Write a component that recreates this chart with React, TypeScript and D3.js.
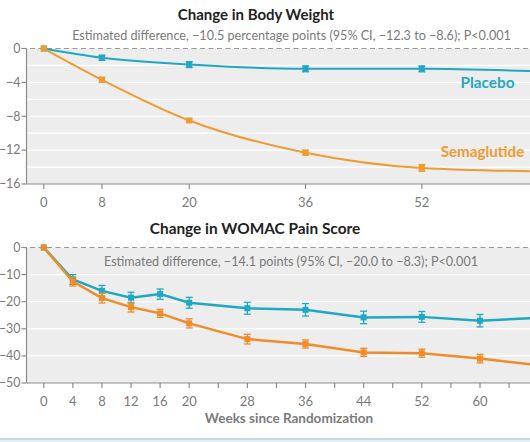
import React from "react";
import * as d3 from "d3";

const W = 530;
const H = 442;

// Top panel: Change in Body Weight (%)
const weeksTop = [0, 8, 20, 36, 52, 68];
const placeboTop = [0, -1.1, -1.9, -2.4, -2.4, -2.7];
const placeboTopErr = [0, 0.3, 0.35, 0.35, 0.35, 0.35];
const semaTop = [0, -3.7, -8.5, -12.3, -14.1, -14.5];
const semaTopErr = [0, 0.3, 0.2, 0.3, 0.4, 0.4];
const yTicksTop = [0, -4, -8, -12, -16];
const yGridTop = [-2, -4, -6, -8, -10, -12, -14];
const xTicksTop = [0, 8, 20, 36, 52, 68];

// Bottom panel: Change in WOMAC Pain Score
const weeksBot = [0, 4, 8, 12, 16, 20, 28, 36, 44, 52, 60, 68];
const placeboBot = [0, -11.8, -16.0, -18.5, -17.2, -20.4, -22.4, -23.0, -25.8, -25.6, -27.0, -26.0];
const placeboBotErr = [0, 1.8, 2.0, 2.0, 1.9, 2.0, 2.2, 2.3, 2.3, 2.0, 2.3, 2.2];
const semaBot = [0, -12.6, -18.7, -22.0, -24.3, -28.0, -33.8, -35.6, -38.7, -39.0, -41.0, -43.4];
const semaBotErr = [0, 1.6, 1.8, 1.8, 1.5, 1.7, 1.8, 1.5, 1.5, 1.5, 1.6, 1.6];
const yTicksBot = [0, -10, -20, -30, -40, -50];
const yGridBot = [-10, -20, -30, -40];
const xTicksBot = [0, 4, 8, 12, 16, 20, 24, 28, 32, 36, 40, 44, 48, 52, 56, 60, 64, 68];
const xLabelsBot = [0, 4, 8, 12, 16, 20, 28, 36, 44, 52, 60];

const TEAL = "#1fa8c4";
const ORANGE = "#f19a30";
const GRAY = "#7a7a7a";
const AXIS = "#8c8c8c";
const BG = "#ededed";
const FONT = "Lato, 'Open Sans', sans-serif";

const fmt = (v: number) => (v < 0 ? "\u2212" + Math.abs(v) : String(v));

type Panel = {
  top: number;
  bottom: number;
  yDomain: [number, number];
  yTicks: number[];
  yGrid: number[];
  xTicks: number[];
  xLabels: number[];
  weeks: number[];
  series: { vals: number[]; err: number[]; color: string }[];
  lineWidth: number;
  smooth: boolean;
};

function PanelView({ p }: { p: Panel }) {
  const x = d3.scaleLinear().domain([0, 68]).range([43.8, 43.8 + 68 * 7.27]);
  const y = d3.scaleLinear().domain(p.yDomain).range([p.top, p.bottom]);
  const left = 26.5;
  const line = d3
    .line<number>()
    .x((_, i) => x(p.weeks[i]))
    .y((d) => y(d))
    .curve(p.smooth ? d3.curveMonotoneX : d3.curveLinear);
  return (
    <g>
      <rect x={left} y={p.top} width={W - left} height={p.bottom - p.top} fill={BG} />
      {p.yGrid.map((g) => (
        <line key={g} x1={left} x2={W} y1={y(g)} y2={y(g)} stroke="#fff" strokeWidth={1.2} />
      ))}
      <line x1={21.5} x2={W} y1={y(0)} y2={y(0)} stroke="#9a9a9a" strokeWidth={1.2} strokeDasharray="5,3.5" />
      <line x1={left} x2={left} y1={p.top} y2={p.bottom} stroke={AXIS} strokeWidth={1.2} />
      <line x1={left} x2={W} y1={p.bottom} y2={p.bottom} stroke={AXIS} strokeWidth={1.2} />
      {p.yTicks.map((t) => (
        <g key={t}>
          <line x1={21.5} x2={left} y1={y(t)} y2={y(t)} stroke={AXIS} strokeWidth={1.2} />
          <text x={20.5} y={y(t)} dy="0.35em" textAnchor="end" fontSize={12.4} fill={GRAY}>
            {fmt(t)}
          </text>
        </g>
      ))}
      {p.xTicks.map((t) => (
        <line key={t} x1={x(t)} x2={x(t)} y1={p.bottom} y2={p.bottom + 5} stroke={AXIS} strokeWidth={1.2} />
      ))}
      {p.xLabels.map((t) => (
        <text key={t} x={x(t)} y={p.bottom + 18} dy="0.35em" textAnchor="middle" fontSize={13} fill={GRAY}>
          {t}
        </text>
      ))}
      {p.series.map((s, si) => (
        <g key={si}>
          <path d={line(s.vals) || ""} fill="none" stroke={s.color} strokeWidth={p.lineWidth} />
          {s.vals.map((v, i) =>
            s.err[i] > 0 ? (
              <g key={i} stroke={s.color} strokeWidth={1.3}>
                <line x1={x(p.weeks[i])} x2={x(p.weeks[i])} y1={y(v - s.err[i])} y2={y(v + s.err[i])} />
                <line x1={x(p.weeks[i]) - 3.5} x2={x(p.weeks[i]) + 3.5} y1={y(v - s.err[i])} y2={y(v - s.err[i])} />
                <line x1={x(p.weeks[i]) - 3.5} x2={x(p.weeks[i]) + 3.5} y1={y(v + s.err[i])} y2={y(v + s.err[i])} />
              </g>
            ) : null
          )}
          {s.vals.map((v, i) => (
            <rect key={"m" + i} x={x(p.weeks[i]) - 3} y={y(v) - 3} width={6} height={6} fill={s.color} />
          ))}
        </g>
      ))}
    </g>
  );
}

export default function App() {
  const topPanel: Panel = {
    top: 48.5,
    bottom: 184,
    yDomain: [0, -16],
    yTicks: yTicksTop,
    yGrid: yGridTop,
    xTicks: xTicksTop,
    xLabels: xTicksTop.slice(0, 5),
    weeks: weeksTop,
    series: [
      { vals: placeboTop, err: placeboTopErr, color: TEAL },
      { vals: semaTop, err: semaTopErr, color: ORANGE },
    ],
    lineWidth: 2,
    smooth: true,
  };
  const botPanel: Panel = {
    top: 247.5,
    bottom: 383,
    yDomain: [0, -50],
    yTicks: yTicksBot,
    yGrid: yGridBot,
    xTicks: xTicksBot,
    xLabels: xLabelsBot,
    weeks: weeksBot,
    series: [
      { vals: placeboBot, err: placeboBotErr, color: TEAL },
      { vals: semaBot, err: semaBotErr, color: "#ef8c28" },
    ],
    lineWidth: 2.5,
    smooth: false,
  };
  return (
    <svg
      width={W}
      height={H}
      style={{ position: "absolute", left: 0, top: 0, background: "#fff" }}
      fontFamily={FONT}
    >
      <text x={256} y={15} dy="0.35em" textAnchor="middle" fontSize={15} fontWeight="bold" fill="#222">
        Change in Body Weight
      </text>
      <text x={291.5} y={36} dy="0.35em" textAnchor="middle" fontSize={12.6} fill={GRAY}>
        Estimated difference, −10.5 percentage points (95% CI, −12.3 to −8.6); P&lt;0.001
      </text>
      <PanelView p={topPanel} />
      <text x={487.5} y={83} dy="0.35em" textAnchor="middle" fontSize={15.3} fontWeight="bold" fill={TEAL}>
        Placebo
      </text>
      <text x={482.5} y={152} dy="0.35em" textAnchor="middle" fontSize={15.2} fontWeight="bold" fill={ORANGE}>
        Semaglutide
      </text>

      <text x={255} y={229} dy="0.35em" textAnchor="middle" fontSize={15.4} fontWeight="bold" fill="#222">
        Change in WOMAC Pain Score
      </text>
      <PanelView p={botPanel} />
      <text x={291} y={262} dy="0.35em" textAnchor="middle" fontSize={12.6} fill={GRAY}>
        Estimated difference, −14.1 points (95% CI, −20.0 to −8.3); P&lt;0.001
      </text>
      <text x={289} y={418} dy="0.35em" textAnchor="middle" fontSize={13.5} fontWeight="bold" fill={GRAY}>
        Weeks since Randomization
      </text>
      <rect x={0} y={439} width={W} height={3} fill="#e3eef2" />
      <line x1={0} x2={W} y1={439} y2={439} stroke="#bdd2da" strokeWidth={1.5} />
    </svg>
  );
}
